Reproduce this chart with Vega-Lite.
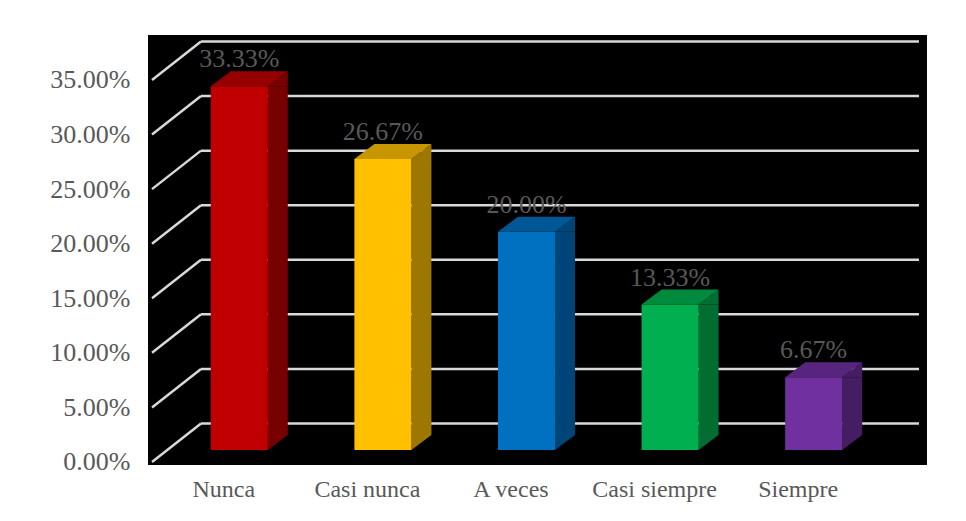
{
  "$schema": "https://vega.github.io/schema/vega-lite/v6.json",
  "width": 779,
  "height": 430,
  "autosize": {"type": "none"},
  "padding": {"left": 148, "top": 35, "right": 39, "bottom": 56},
  "background": "white",
  "config": {
    "view": {"fill": "black", "stroke": null},
    "font": "Liberation Serif"
  },
  "datasets": {
    "bars": [
      {"cat": "Nunca", "pct": 0.3333},
      {"cat": "Casi nunca", "pct": 0.2667},
      {"cat": "A veces", "pct": 0.2},
      {"cat": "Casi siempre", "pct": 0.1333},
      {"cat": "Siempre", "pct": 0.0667}
    ],
    "ticks": [
      {"v": 0}, {"v": 0.05}, {"v": 0.1}, {"v": 0.15}, {"v": 0.2}, {"v": 0.25}, {"v": 0.3}, {"v": 0.35}
    ]
  },
  "encoding": {
    "x": {
      "field": "cat", "type": "nominal",
      "sort": ["Nunca", "Casi nunca", "A veces", "Casi siempre", "Siempre"],
      "scale": {"paddingInner": 0, "paddingOuter": 0.2125, "align": 0.0655},
      "axis": {"title": null, "ticks": false, "domain": false, "grid": false, "labelFont": "Liberation Serif", "labelFontSize": 24, "labelColor": "#595959", "labelPadding": 12, "labelAngle": 0}
    },
    "y": {
      "field": "pct", "type": "quantitative",
      "scale": {"domain": [-0.00275, 0.39123], "nice": false, "zero": false},
      "axis": {"title": null, "ticks": false, "domain": false, "grid": false, "values": [0, 0.05, 0.1, 0.15, 0.2, 0.25, 0.3, 0.35], "format": ".2%", "labelFont": "Liberation Serif", "labelFontSize": 26, "labelColor": "#595959", "labelPadding": 18}
    }
  },
  "layer": [
    {
      "data": {"name": "ticks"},
      "mark": {"type": "rule", "color": "#D9D9D9", "strokeWidth": 2.5, "x2Offset": 49, "y2Offset": -38.5},
      "encoding": {
        "x": {"datum": "Nunca", "bandPosition": 0},
        "x2": {"datum": "Nunca", "bandPosition": 0},
        "y": {"field": "v", "type": "quantitative"},
        "y2": {"field": "v"}
      }
    },
    {
      "data": {"name": "ticks"},
      "mark": {"type": "rule", "color": "#D9D9D9", "strokeWidth": 2.5, "xOffset": 49, "x2Offset": 49, "yOffset": -38.5},
      "encoding": {
        "x": {"datum": "Nunca", "bandPosition": 0},
        "x2": {"datum": "Siempre", "bandPosition": 1},
        "y": {"field": "v", "type": "quantitative"}
      }
    },
    {
      "data": {"name": "bars"},
      "mark": {"type": "bar", "width": {"band": 0.1393}, "xOffset": 54, "yOffset": -12, "y2Offset": -27},
      "encoding": {
        "y2": {"datum": 0},
        "color": {"field": "cat", "type": "nominal", "legend": null,
          "scale": {"domain": ["Nunca", "Casi nunca", "A veces", "Casi siempre", "Siempre"], "range": ["#770000", "#9E7700", "#004577", "#006D31", "#451D63"]}}
      }
    },
    {
      "data": {"name": "bars"},
      "mark": {"type": "point", "shape": "M28.5,-15L48.5,-15L28.5,0Z", "size": 4, "filled": true, "opacity": 1, "xOffset": 15.5, "yOffset": -12},
      "encoding": {
        "y": {"datum": 0},
        "color": {"field": "cat", "type": "nominal", "legend": null,
          "scale": {"domain": ["Nunca", "Casi nunca", "A veces", "Casi siempre", "Siempre"], "range": ["#770000", "#9E7700", "#004577", "#006D31", "#451D63"]}}
      }
    },
    {
      "data": {"name": "bars"},
      "mark": {"type": "point", "shape": "M28.5,0L48.5,-15L48.5,0Z", "size": 4, "filled": true, "opacity": 1, "xOffset": 15.5, "yOffset": -12},
      "encoding": {
        "color": {"field": "cat", "type": "nominal", "legend": null,
          "scale": {"domain": ["Nunca", "Casi nunca", "A veces", "Casi siempre", "Siempre"], "range": ["#770000", "#9E7700", "#004577", "#006D31", "#451D63"]}}
      }
    },
    {
      "data": {"name": "bars"},
      "mark": {"type": "bar", "width": {"band": 0.397}, "xOffset": 15.5, "yOffset": -12, "y2Offset": -12},
      "encoding": {
        "y2": {"datum": 0},
        "color": {"field": "cat", "type": "nominal", "legend": null,
          "scale": {"domain": ["Nunca", "Casi nunca", "A veces", "Casi siempre", "Siempre"], "range": ["#C00000", "#FFC000", "#0070C0", "#00B050", "#7030A0"]}}
      }
    },
    {
      "data": {"name": "bars"},
      "mark": {"type": "point", "shape": "M-28.5,0L28.5,0L48.5,-15L-8.5,-15Z", "size": 4, "filled": true, "opacity": 1, "xOffset": 15.5, "yOffset": -12},
      "encoding": {
        "color": {"field": "cat", "type": "nominal", "legend": null,
          "scale": {"domain": ["Nunca", "Casi nunca", "A veces", "Casi siempre", "Siempre"], "range": ["#960000", "#C79600", "#005796", "#008A3E", "#57257D"]}}
      }
    },
    {
      "data": {"name": "bars"},
      "mark": {"type": "text", "font": "Liberation Serif", "fontSize": 26, "color": "#595959", "baseline": "alphabetic", "align": "center", "xOffset": 15.5, "yOffset": -31},
      "encoding": {
        "text": {"field": "pct", "type": "quantitative", "format": ".2%"}
      }
    }
  ],
  "resolve": {"scale": {"color": "independent"}}
}
